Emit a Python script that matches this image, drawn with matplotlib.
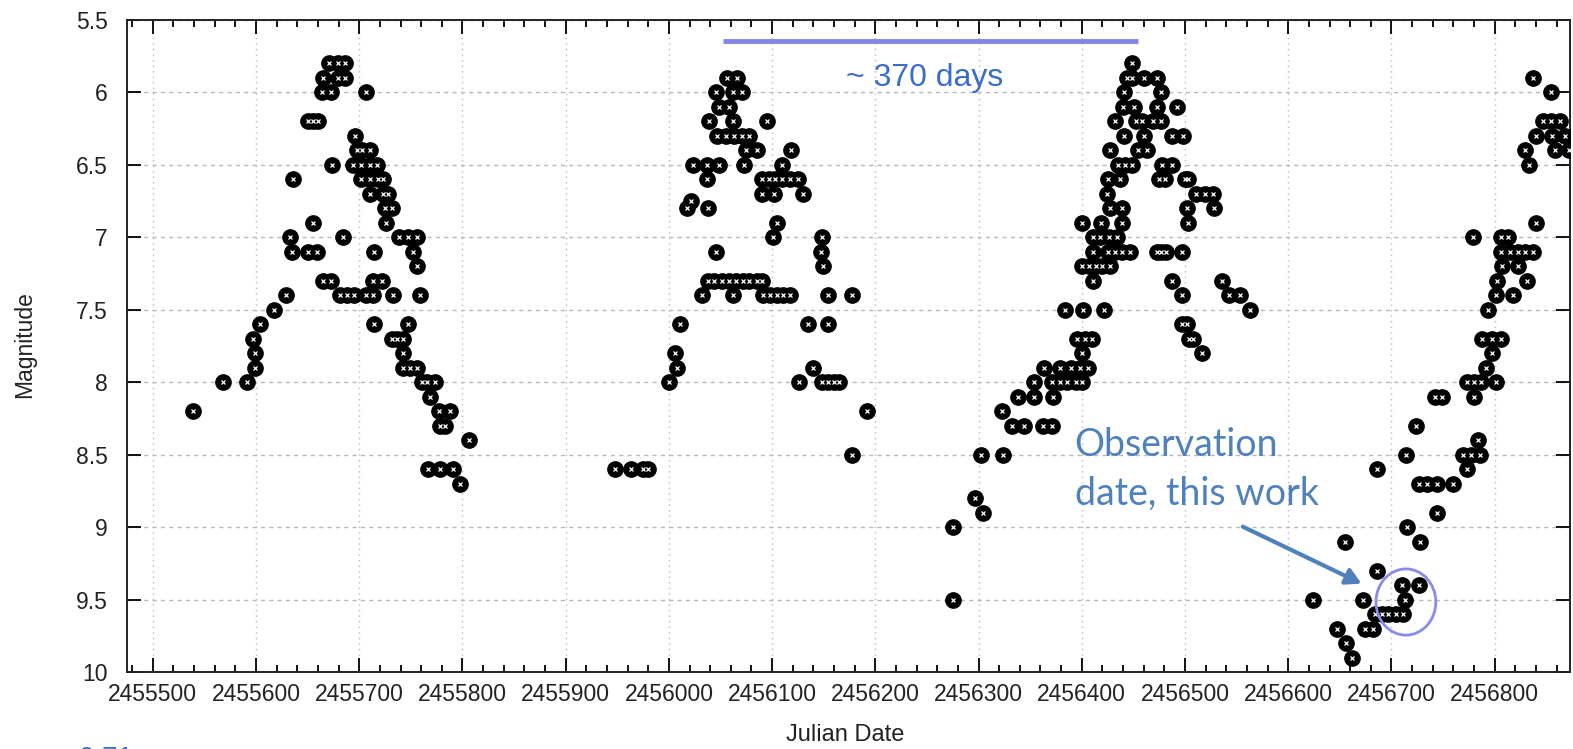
import matplotlib
matplotlib.use("Agg")
import matplotlib.pyplot as plt
from matplotlib.patches import Ellipse
from matplotlib.ticker import MultipleLocator, FuncFormatter

# --- season 1 (2011) ---
jd1 = [2455671, 2455679, 2455686,
       2455665, 2455679, 2455686,
       2455664, 2455673, 2455707,
       2455650, 2455655, 2455660,
       2455696,
       2455698, 2455703, 2455710,
       2455674, 2455694, 2455702, 2455710, 2455717,
       2455636, 2455702, 2455710, 2455718, 2455723,
       2455710, 2455723, 2455728,
       2455725, 2455732,
       2455655, 2455726,
       2455633, 2455684, 2455739, 2455747, 2455756,
       2455635, 2455650, 2455659, 2455714, 2455752,
       2455756,
       2455665, 2455673, 2455713, 2455722,
       2455629, 2455681, 2455688, 2455695, 2455707, 2455713, 2455733, 2455759,
       2455617,
       2455604, 2455714, 2455747,
       2455597, 2455732, 2455737, 2455742,
       2455599, 2455742,
       2455599, 2455742, 2455749, 2455756,
       2455568, 2455591, 2455761, 2455766, 2455773,
       2455769,
       2455539, 2455777, 2455788,
       2455778, 2455783,
       2455806,
       2455767, 2455778, 2455791,
       2455798]
mag1 = [5.8, 5.8, 5.8,
        5.9, 5.9, 5.9,
        6.0, 6.0, 6.0,
        6.2, 6.2, 6.2,
        6.3,
        6.4, 6.4, 6.4,
        6.5, 6.5, 6.5, 6.5, 6.5,
        6.6, 6.6, 6.6, 6.6, 6.6,
        6.7, 6.7, 6.7,
        6.8, 6.8,
        6.9, 6.9,
        7.0, 7.0, 7.0, 7.0, 7.0,
        7.1, 7.1, 7.1, 7.1, 7.1,
        7.2,
        7.3, 7.3, 7.3, 7.3,
        7.4, 7.4, 7.4, 7.4, 7.4, 7.4, 7.4, 7.4,
        7.5,
        7.6, 7.6, 7.6,
        7.7, 7.7, 7.7, 7.7,
        7.8, 7.8,
        7.9, 7.9, 7.9, 7.9,
        8.0, 8.0, 8.0, 8.0, 8.0,
        8.1,
        8.2, 8.2, 8.2,
        8.3, 8.3,
        8.4,
        8.6, 8.6, 8.6,
        8.7]

# --- season 2 (2012) ---
jd2 = [2456056, 2456066,
       2456046, 2456062, 2456071,
       2456049, 2456058,
       2456039, 2456062, 2456095,
       2456047, 2456055, 2456063, 2456071, 2456078,
       2456075, 2456085, 2456118,
       2456023, 2456037, 2456049, 2456073, 2456110,
       2456037, 2456090, 2456097, 2456103, 2456110, 2456117, 2456125,
       2456090, 2456102, 2456130,
       2456021,
       2456018, 2456038,
       2456105,
       2456101, 2456148,
       2456046, 2456147,
       2456149,
       2456038, 2456044, 2456051, 2456058, 2456065, 2456072, 2456078, 2456085, 2456090,
       2456032, 2456062, 2456091, 2456098, 2456105, 2456111, 2456117, 2456154, 2456177,
       2456011, 2456135, 2456154,
       2456006,
       2456008, 2456140,
       2456000, 2456126, 2456148, 2456154, 2456160, 2456165,
       2456192,
       2456177,
       2455948, 2455963, 2455975, 2455980]
mag2 = [5.9, 5.9,
        6.0, 6.0, 6.0,
        6.1, 6.1,
        6.2, 6.2, 6.2,
        6.3, 6.3, 6.3, 6.3, 6.3,
        6.4, 6.4, 6.4,
        6.5, 6.5, 6.5, 6.5, 6.5,
        6.6, 6.6, 6.6, 6.6, 6.6, 6.6, 6.6,
        6.7, 6.7, 6.7,
        6.75,
        6.8, 6.8,
        6.9,
        7.0, 7.0,
        7.1, 7.1,
        7.2,
        7.3, 7.3, 7.3, 7.3, 7.3, 7.3, 7.3, 7.3, 7.3,
        7.4, 7.4, 7.4, 7.4, 7.4, 7.4, 7.4, 7.4, 7.4,
        7.6, 7.6, 7.6,
        7.8,
        7.9, 7.9,
        8.0, 8.0, 8.0, 8.0, 8.0, 8.0,
        8.2,
        8.5,
        8.6, 8.6, 8.6, 8.6]

# --- season 3 (2013) ---
jd3 = [2456449,
       2456444, 2456449, 2456460, 2456473,
       2456441, 2456477,
       2456440, 2456451, 2456473, 2456492,
       2456432, 2456453, 2456458, 2456469, 2456477,
       2456441, 2456460, 2456487, 2456498,
       2456427, 2456454, 2456463,
       2456435, 2456442, 2456449, 2456478, 2456487,
       2456425, 2456437, 2456475, 2456481, 2456500, 2456503,
       2456424, 2456511, 2456519, 2456527,
       2456427, 2456439, 2456502, 2456528,
       2456400, 2456419, 2456439, 2456503,
       2456411, 2456418, 2456426, 2456434,
       2456411, 2456425, 2456432, 2456439, 2456447, 2456473, 2456477, 2456482, 2456497,
       2456400, 2456407, 2456414, 2456420, 2456427,
       2456411, 2456487, 2456536,
       2456497, 2456543, 2456553,
       2456384, 2456401, 2456422, 2456563,
       2456497, 2456502,
       2456395, 2456403, 2456410, 2456504, 2456508,
       2456400, 2456516,
       2456363, 2456379, 2456390, 2456398, 2456406,
       2456354, 2456371, 2456379, 2456386, 2456394, 2456400,
       2456338, 2456354, 2456372,
       2456323,
       2456332, 2456344, 2456362, 2456371,
       2456302, 2456324,
       2456297,
       2456304,
       2456275,
       2456275]
mag3 = [5.8,
        5.9, 5.9, 5.9, 5.9,
        6.0, 6.0,
        6.1, 6.1, 6.1, 6.1,
        6.2, 6.2, 6.2, 6.2, 6.2,
        6.3, 6.3, 6.3, 6.3,
        6.4, 6.4, 6.4,
        6.5, 6.5, 6.5, 6.5, 6.5,
        6.6, 6.6, 6.6, 6.6, 6.6, 6.6,
        6.7, 6.7, 6.7, 6.7,
        6.8, 6.8, 6.8, 6.8,
        6.9, 6.9, 6.9, 6.9,
        7.0, 7.0, 7.0, 7.0,
        7.1, 7.1, 7.1, 7.1, 7.1, 7.1, 7.1, 7.1, 7.1,
        7.2, 7.2, 7.2, 7.2, 7.2,
        7.3, 7.3, 7.3,
        7.4, 7.4, 7.4,
        7.5, 7.5, 7.5, 7.5,
        7.6, 7.6,
        7.7, 7.7, 7.7, 7.7, 7.7,
        7.8, 7.8,
        7.9, 7.9, 7.9, 7.9, 7.9,
        8.0, 8.0, 8.0, 8.0, 8.0, 8.0,
        8.1, 8.1, 8.1,
        8.2,
        8.3, 8.3, 8.3, 8.3,
        8.5, 8.5,
        8.8,
        8.9,
        9.0,
        9.5]

# --- season 4 (2014) ---
jd4 = [2456837,
       2456855,
       2456847, 2456855, 2456863,
       2456840, 2456856, 2456868,
       2456829, 2456858, 2456872,
       2456833,
       2456840,
       2456779, 2456806, 2456813,
       2456806, 2456815, 2456823, 2456829, 2456837,
       2456807, 2456823,
       2456802, 2456831,
       2456801, 2456818,
       2456794,
       2456788, 2456797, 2456806,
       2456797,
       2456792,
       2456773, 2456780, 2456787, 2456801,
       2456742, 2456749, 2456780,
       2456724,
       2456784,
       2456714, 2456769, 2456777, 2456786,
       2456686, 2456773,
       2456727, 2456734, 2456744, 2456760,
       2456744,
       2456715,
       2456655, 2456728,
       2456686,
       2456710, 2456727,
       2456624, 2456672, 2456713,
       2456684, 2456691, 2456697, 2456704, 2456711,
       2456647, 2456674, 2456682,
       2456656,
       2456662]
mag4 = [5.9,
        6.0,
        6.2, 6.2, 6.2,
        6.3, 6.3, 6.3,
        6.4, 6.4, 6.4,
        6.5,
        6.9,
        7.0, 7.0, 7.0,
        7.1, 7.1, 7.1, 7.1, 7.1,
        7.2, 7.2,
        7.3, 7.3,
        7.4, 7.4,
        7.5,
        7.7, 7.7, 7.7,
        7.8,
        7.9,
        8.0, 8.0, 8.0, 8.0,
        8.1, 8.1, 8.1,
        8.3,
        8.4,
        8.5, 8.5, 8.5, 8.5,
        8.6, 8.6,
        8.7, 8.7, 8.7, 8.7,
        8.9,
        9.0,
        9.1, 9.1,
        9.3,
        9.4, 9.4,
        9.5, 9.5, 9.5,
        9.6, 9.6, 9.6, 9.6, 9.6,
        9.7, 9.7, 9.7,
        9.8,
        9.9]

# annotation values
period_start, period_end, period_mag = 2456052, 2456454, 5.645
obs_center = (2456714, 9.517)
obs_size = (58, 0.457)
arrow_from = (2456556, 8.997)
arrow_to = (2456671, 9.39)

fig = plt.figure(figsize=(15.73, 7.49), dpi=100)
ax = fig.add_axes([127 / 1573, 1 - 672 / 749, 1443 / 1573, 652 / 749])

for jd, mag in [(jd1, mag1), (jd2, mag2), (jd3, mag3), (jd4, mag4)]:
    ax.plot(jd, mag, 'o', color='black', ms=11, mec='black', mew=1, zorder=3)
    ax.plot(jd, mag, 'x', color='white', ms=3.2, mew=0.9, zorder=4)

ax.set_xlim(2455475, 2456873)
ax.set_ylim(10, 5.5)
ax.xaxis.set_major_locator(MultipleLocator(100))
ax.xaxis.set_minor_locator(MultipleLocator(20))
ax.yaxis.set_major_locator(MultipleLocator(0.5))
ax.xaxis.set_major_formatter(FuncFormatter(lambda v, p: '%d' % round(v)))
ax.yaxis.set_major_formatter(FuncFormatter(lambda v, p: '%g' % v))

ax.tick_params(which='both', direction='in', top=True, right=True, width=1.3)
ax.tick_params(which='major', length=10, labelsize=16.5, pad=8)
ax.tick_params(which='minor', length=5)
ax.tick_params(axis='y', pad=14)
for lab in ax.get_xticklabels() + ax.get_yticklabels():
    lab.set_fontfamily('Liberation Sans')
    lab.set_color('#222222')
for s in ax.spines.values():
    s.set_linewidth(1.4)
    s.set_color('#222222')

ax.xaxis.grid(True, which='major', color='#b8b8b8', linestyle=(0, (1, 3)), lw=1)
ax.yaxis.grid(True, which='major', color='#b8b8b8', linestyle=(0, (3, 3)), lw=1)
ax.set_axisbelow(True)

fig.text(25 / 1573, 1 - 345 / 749, 'Magnitude', rotation=90, ha='center', va='center',
         fontsize=16.5, family='Liberation Sans', color='#222222')
fig.text(845 / 1573, 1 - 735 / 749, 'Julian Date', ha='center', va='center',
         fontsize=17, family='Liberation Sans', color='#222222')

# ~370 days bar
ax.plot([period_start, period_end], [period_mag, period_mag], color='#8585e6', lw=3.5,
        solid_capstyle='butt', zorder=5)
ax.text(2456248, 5.90, '~ 370 days', ha='center', va='center', fontsize=23,
        family='Liberation Sans', color='#3a6ccc', zorder=5)

# observation date annotation
ax.add_patch(Ellipse(obs_center, obs_size[0], obs_size[1], fill=False, ec='#8a8aea',
                     lw=2, zorder=6))
ax.annotate('', xy=arrow_to, xytext=arrow_from,
            arrowprops=dict(arrowstyle='-|>,head_length=0.9,head_width=0.5',
                            color='#4f81bd', lw=3, shrinkA=0, shrinkB=0), zorder=6)
ax.text(2456393, 8.512, 'Observation', ha='left', va='baseline', fontsize=27,
        family='Lato', color='#4f81bd', zorder=6)
ax.text(2456393, 8.845, 'date, this work', ha='left', va='baseline', fontsize=27,
        family='Lato', color='#4f81bd', zorder=6)

# partly visible caption below the chart, cut off as in the original slide
fig.text(0.035, 0.004, '~ 0.71', ha='left', va='top', fontsize=20,
         family='Liberation Sans', color='#3a6ccc')

fig.savefig('out.png', dpi=100)
